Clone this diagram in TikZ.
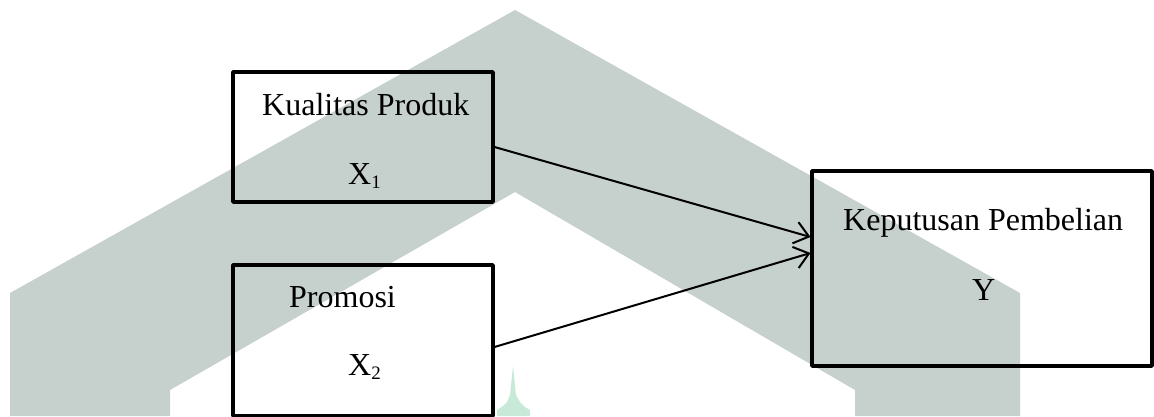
\documentclass[tikz,border=0pt]{standalone}
\usepackage{fontspec}
\setmainfont{Liberation Serif}
\usetikzlibrary{arrows.meta,calc}
\definecolor{wmgrey}{RGB}{198,208,204}
\definecolor{wmgreen}{RGB}{200,232,216}
\newcommand{\subsc}[1]{\raisebox{-4pt}{\fontsize{19}{20}\selectfont #1}}
\tikzset{
  box/.style={draw=black, line width=3.5pt, line join=round, inner sep=0pt, outer sep=0pt},
  lbl/.style={anchor=base west, inner sep=0pt, font=\fontsize{32}{38}\selectfont},
  link/.style={draw=black, line width=2pt, -{Straight Barb[length=14pt,width=22pt,line width=2pt]}}
}
\begin{document}
\begin{tikzpicture}[x=1pt,y=-1pt]
\useasboundingbox (0,0) rectangle (1154,416);
% watermark
\fill[wmgrey] (10,416) -- (10,293) -- (515,10) -- (1020,293) -- (1020,416) -- (855,416) -- (855,390) -- (515,192) -- (170,390) -- (170,416) -- cycle;
\fill[wmgreen] (513,366) -- (516,395) -- (520,402) -- (525,407) -- (530,410) -- (530,416) -- (497,416) -- (497,410) -- (503,406) -- (507,402) -- (510,395) -- cycle;
% boxes
\node[box, minimum width=260pt, minimum height=130pt] (x1) at (363,137) {};
\node[box, minimum width=260pt, minimum height=151pt] (x2) at (363,340.5) {};
\node[box, minimum width=340pt, minimum height=195pt] (y) at (982,268.5) {};
% labels
\node[lbl] (t1) at (262,115) {Kualitas Produk};
\node[lbl] (s1) at (348,184) {X\subsc{1}};
\node[lbl] (t2) at (289,307) {Promosi};
\node[lbl] (s2) at (348,375) {X\subsc{2}};
\node[lbl] (t3) at (843,230) {Keputusan Pembelian};
\node[lbl] (s3) at (972,300) {Y};
% connectors
\coordinate (a1) at ($(y.west)+(-1.5,-31.5)$);
\coordinate (a2) at ($(y.west)+(-1.5,-15.5)$);
\coordinate (b1) at ($(x1.east)+(1.5,10)$);
\coordinate (b2) at ($(x2.east)+(1.5,6.5)$);
\draw[link] (b1) -- (a1);
\draw[link] (b2) -- (a2);
\end{tikzpicture}
\end{document}
